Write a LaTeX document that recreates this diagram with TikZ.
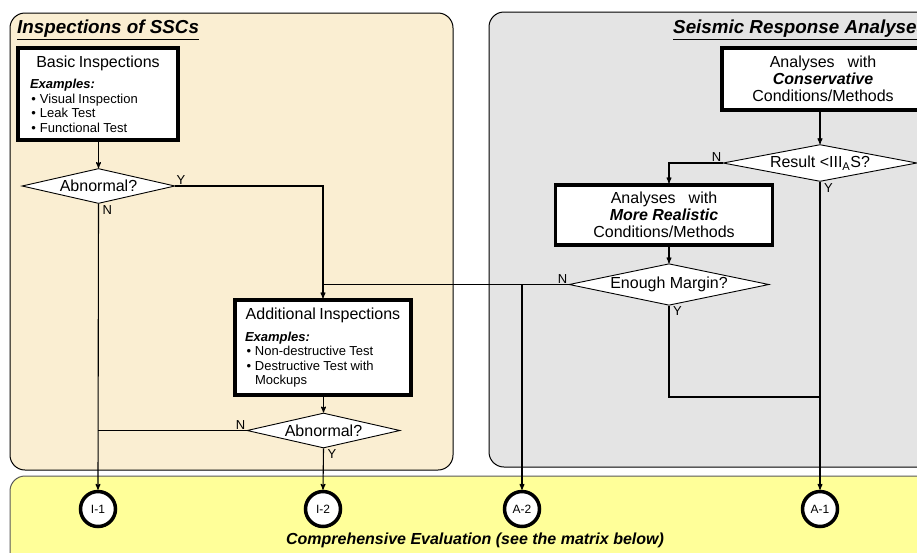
\documentclass[tikz,border=0pt]{standalone}
\usepackage{fontspec}
\setmainfont{Liberation Sans}
\usepackage{tikz}
\usetikzlibrary{arrows,shapes,positioning,calc}
\definecolor{parchment}{RGB}{250,238,210}
\definecolor{granite}{RGB}{228,228,228}
\definecolor{evalyellow}{RGB}{255,255,153}
\newcommand{\exfont}{\fontsize{13}{14.4}\selectfont}
\newcommand{\boxfont}{\fontsize{16}{17}\selectfont}
\newcommand{\exitem}[1]{\par\noindent\makebox[10pt][l]{\hspace{1.5pt}•}\parbox[t]{\dimexpr\linewidth-10pt}{#1}}
\tikzset{
    panel/.style={
        rounded corners=15pt,
        draw=black,
        line width=1pt,
    },
    paneltitle/.style={
        font=\fontsize{18.8}{20}\selectfont\bfseries\itshape,
        inner sep=0pt,
    },
    bigbox/.style={
        rectangle,
        draw=black,
        fill=white,
        line width=3.5pt,
        inner sep=0pt,
    },
    decision/.style={
        diamond,
        draw=black,
        fill=white,
        line width=0.9pt,
        aspect=4.4,
        inner sep=0pt,
        font=\boxfont,
    },
    result/.style={
        circle,
        draw=black,
        fill=white,
        line width=3.5pt,
        minimum size=35pt,
        inner sep=0pt,
        font=\fontsize{12}{12}\selectfont,
    },
    yn/.style={
        inner sep=1pt,
        font=\exfont,
    },
    every edge/.style={
        draw,
        ->,>=stealth',
        line width=1.1pt,
    },
    flow/.style={
        draw,
        line width=1.1pt,
        >=stealth',
    },
}

\begin{document}
\begin{tikzpicture}[x=1pt,y=-1pt]
\useasboundingbox (0,0) rectangle (917,552);
\clip (0,0) rectangle (917,552);
% panels
\draw[panel, fill=parchment] (10,13) rectangle (453,470);
\draw[panel, fill=granite] (489,12) rectangle (960,467);
\draw[panel, fill=evalyellow, draw=black!65] (10,476) rectangle (960,600);
\node[paneltitle, anchor=west] (ssctitle) at (17,30) {\underline{Inspections of SSCs}};
\node[paneltitle, anchor=west] (seistitle) at (673,30) {\underline{Seismic Response Analyses}};
\node[paneltitle, font=\fontsize{16}{18}\selectfont\bfseries\itshape] (evaltitle) at (475,540) {Comprehensive Evaluation (see the matrix below)};

% inspections
\node[bigbox, minimum width=160pt, minimum height=92pt, text width=136pt] (basic) at (98,94)
    {{\centering\boxfont Basic Inspections\par}\vspace{7pt}\exfont
     \noindent\textbf{\textit{Examples:}}
     \exitem{Visual Inspection}
     \exitem{Leak Test}
     \exitem{Functional Test}\par};
\node[decision, minimum width=153pt, minimum height=35pt] (abn1) at (98.5,186) {Abnormal?};
\node[bigbox, minimum width=176pt, minimum height=95pt, text width=156pt] (addl) at (323,347.5)
    {{\centering\boxfont Additional Inspections\par}\vspace{8pt}\exfont
     \noindent\textbf{\textit{Examples:}}
     \exitem{Non-destructive Test}
     \exitem{Destructive Test with\\Mockups}\par};
\node[decision, minimum width=153pt, minimum height=35pt] (abn2) at (323.5,430.5) {Abnormal?};

% analyses
\node[bigbox, minimum width=202pt, minimum height=62pt, align=center, font=\boxfont] (cons) at (823,79)
    {Analyses\hspace{13pt}with\\\textbf{\textit{Conservative}}\\Conditions/Methods};
\node[decision, minimum width=194pt, minimum height=36pt] (res) at (820,163) {Result <III\textsubscript{A}S?};
\node[bigbox, minimum width=217pt, minimum height=60pt, align=center, font=\boxfont] (real) at (664,215)
    {Analyses\hspace{13pt}with\\\textbf{\textit{More Realistic}}\\Conditions/Methods};
\node[decision, minimum width=200pt, minimum height=35pt] (marg) at (669,284.5) {Enough Margin?};

% evaluation points
\node[result] (I1) at (98,509) {I-1};
\node[result] (I2) at (323,509) {I-2};
\node[result] (A2) at (522,509) {A-2};
\node[result] (A1) at (820,509) {A-1};
\coordinate (join) at (820,397);

% connectors
\draw (basic.south -| abn1) edge (abn1.north);
\draw (abn1.south) edge (I1.north);
\draw[flow, ->] (abn1.east) -| (addl.north);
\draw[flow] (marg.west) -- (marg.west -| addl.north);
\draw (A2 |- marg.west) edge (A2.north);
\draw (addl.south -| abn2) edge (abn2.north);
\draw[flow] (abn2.west) -- (abn2.west -| I1);
\draw (abn2.south) edge (I2.north);
\draw (cons.south -| res) edge (res.north);
\draw[flow, ->] (res.west) -| (real.north -| marg);
\draw (real.south -| marg) edge (marg.north);
\draw (res.south) edge (A1.north);
\draw[flow] (marg.south) |- (join);

% Y / N marks
\node[yn, anchor=south west] (y1) at (abn1.east) {Y};
\node[yn, anchor=north west] (n1) at ([xshift=3pt]abn1.south) {N};
\node[yn, anchor=south east] (n2) at (abn2.west) {N};
\node[yn, anchor=north west] (y2) at ([xshift=3pt]abn2.south) {Y};
\node[yn, anchor=south east] (n3) at (res.west) {N};
\node[yn, anchor=north west] (y3) at ([xshift=3pt]res.south) {Y};
\node[yn, anchor=south east] (n4) at (marg.west) {N};
\node[yn, anchor=north west] (y4) at ([xshift=3pt]marg.south) {Y};
\end{tikzpicture}
\end{document}
